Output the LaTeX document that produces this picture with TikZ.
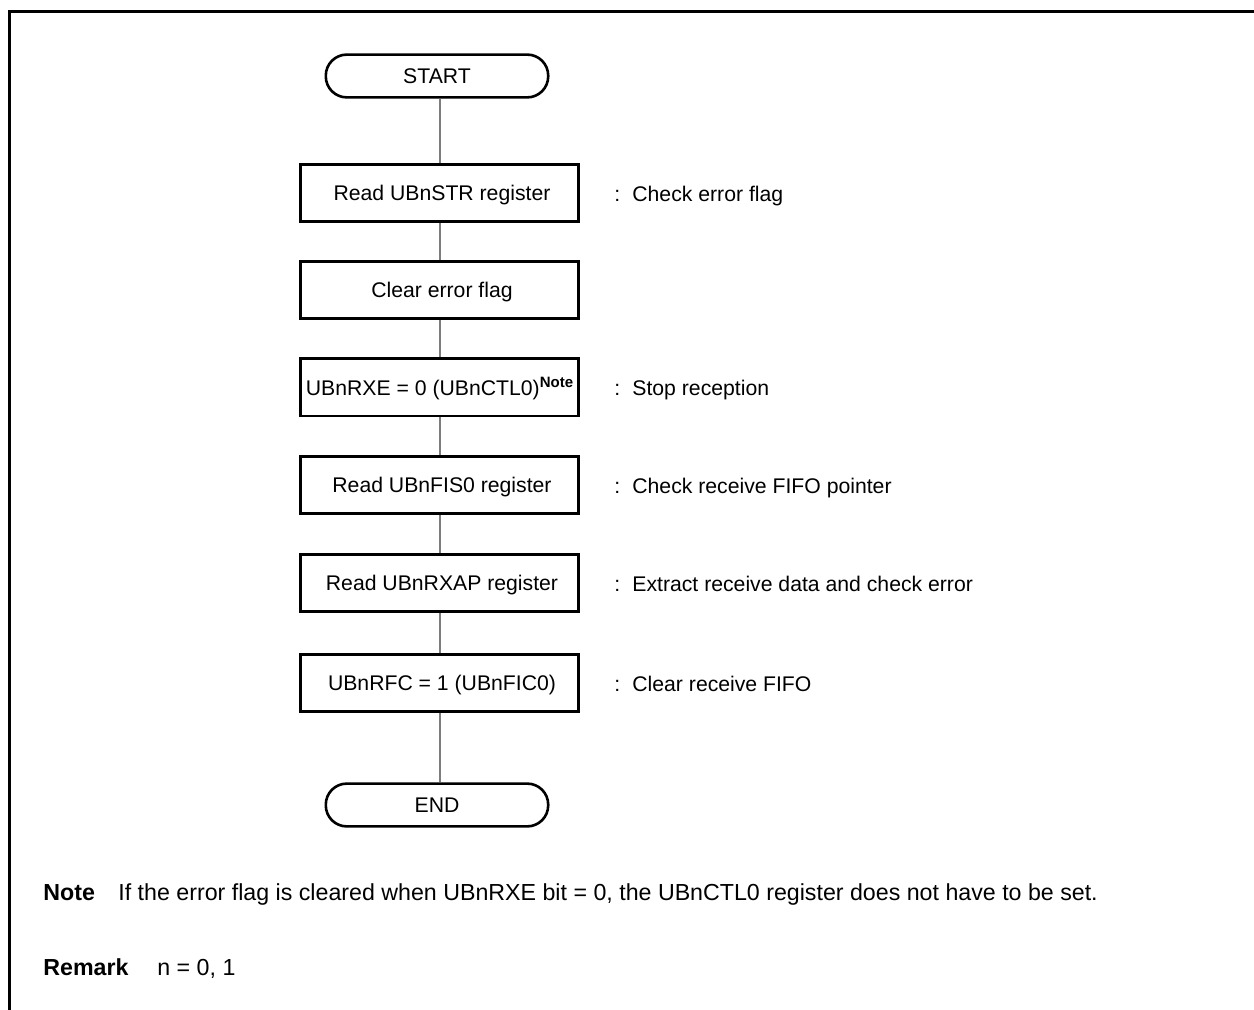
\documentclass[tikz,border=0pt]{standalone}
\usepackage{fontspec}
\setmainfont{Liberation Sans}
\definecolor{linkgray}{RGB}{125,125,125}
\begin{document}
\begin{tikzpicture}[x=0.5pt,y=-0.5pt,
  proc/.style={draw, line width=1.3pt, minimum width=139.2pt, minimum height=28.7pt, inner sep=0pt,
    font=\fontsize{10.6}{12}\selectfont, text height=7.6pt, text depth=0pt,
    execute at begin node=\hspace*{2.5pt}},
  term/.style={draw, line width=1.3pt, rounded corners=10.5pt, minimum width=111.2pt, minimum height=21.4pt, inner sep=0pt,
    font=\fontsize{10.6}{12}\selectfont, text height=7.6pt, text depth=0pt},
  link/.style={draw=linkgray, line width=1pt},
  ann/.style={anchor=base west, inner sep=0pt, font=\fontsize{10.6}{12}\selectfont},
  foot/.style={anchor=base west, inner sep=0pt, font=\fontsize{11.6}{13}\selectfont},
  footb/.style={foot, font=\fontsize{11.6}{13}\selectfont\bfseries},
  frame/.style={line width=1.5pt}
  ]
\useasboundingbox (0,0) rectangle (1254,1010);
\draw[frame] (9.5,1010) -- (9.5,11.5) -- (1254,11.5);

\node[term] (start) at (437,76) {START};
\node[proc] (b1) at (439.5,193) {Read UBnSTR register};
\node[proc] (b2) at (439.5,290) {Clear error flag};
\node[proc] (b3) at (439.5,387.5) {\hspace*{-2.5pt}UBnRXE = 0 (UBnCTL0)\raisebox{3.8pt}{\fontsize{7.5}{8}\selectfont\bfseries Note}};
\node[proc] (b4) at (439.5,485) {Read UBnFIS0 register};
\node[proc] (b5) at (439.5,583) {Read UBnRXAP register};
\node[proc] (b6) at (439.5,683) {UBnRFC = 1 (UBnFIC0)};
\node[term] (end) at (437,805) {END};

\draw[link] (b1.north |- start.south) -- (b1.north);
\draw[link] (b1) -- (b2);
\draw[link] (b2) -- (b3);
\draw[link] (b3) -- (b4);
\draw[link] (b4) -- (b5);
\draw[link] (b5) -- (b6);
\draw[link] (b6.south) -- (b6.south |- end.north);

\node[ann] (a1) at (614,201.5) {\makebox[9pt][l]{:}Check error flag};
\node[ann] (a3) at (614,396) {\makebox[9pt][l]{:}Stop reception};
\node[ann] (a4) at (614,493.5) {\makebox[9pt][l]{:}Check receive FIFO pointer};
\node[ann] (a5) at (614,591.5) {\makebox[9pt][l]{:}Extract receive data and check error};
\node[ann] (a6) at (614,691.5) {\makebox[9pt][l]{:}Clear receive FIFO};

\node[footb] (notelbl) at (43,900) {Note};
\node[foot] (notetxt) at (118,900) {If the error flag is cleared when UBnRXE bit = 0, the UBnCTL0 register does not have to be set.};
\node[footb] (remlbl) at (43,975) {Remark};
\node[foot] (remtxt) at (157,975) {n = 0, 1};
\end{tikzpicture}
\end{document}
